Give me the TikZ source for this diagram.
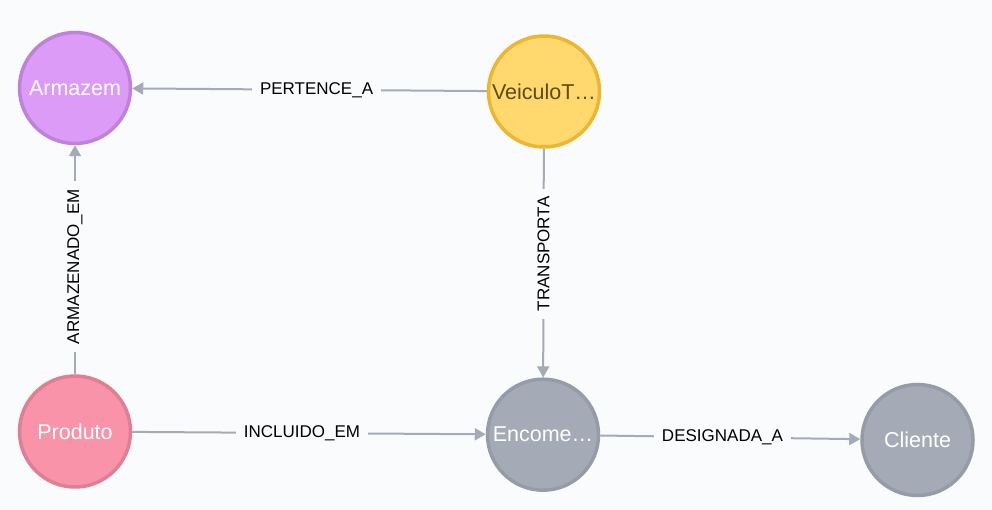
\documentclass[tikz,border=0pt]{standalone}
\usepackage{fontspec}
\setmainfont{Liberation Sans}
\usetikzlibrary{arrows.meta}
\definecolor{bg}{HTML}{F9FBFD}
\definecolor{edgec}{HTML}{A5ABB6}
\definecolor{purF}{HTML}{DC9BF7}
\definecolor{purD}{HTML}{BE82DA}
\definecolor{yelF}{HTML}{FFD86E}
\definecolor{yelD}{HTML}{EDB630}
\definecolor{pinF}{HTML}{F893A9}
\definecolor{pinD}{HTML}{DE7F94}
\definecolor{gryF}{HTML}{A5ABB6}
\definecolor{gryD}{HTML}{969CA7}
\definecolor{yelT}{HTML}{5E4A12}
\tikzset{
  gnode/.style={circle, minimum size=111pt, inner sep=0pt, line width=3.5pt,
    font=\fontsize{21.5}{25}\selectfont, text=white},
  edge/.style={draw=edgec, line width=2pt, -{Triangle[length=11pt,width=12pt]}},
  lbl/.style={fill=bg, inner xsep=8pt, inner ysep=3pt, text=black,
    font=\fontsize{17}{20}\selectfont}
}
\begin{document}
\begin{tikzpicture}[x=1pt,y=-1pt]
\fill[bg] (0,0) rectangle (992,510);
\useasboundingbox (0,0) rectangle (992,510);
\node[gnode, fill=purF, draw=purD] (arm) at (75,88) {\raisebox{-3pt}{Armazem}};
\node[gnode, fill=yelF, draw=yelD, text=yelT] (veic) at (544,91.5) {\raisebox{-3pt}{VeiculoT…}};
\node[gnode, fill=pinF, draw=pinD] (prod) at (75,431.5) {\raisebox{-3pt}{Produto}};
\node[gnode, fill=gryF, draw=gryD] (enc) at (543,434.7) {\raisebox{-3pt}{Encome…}};
\node[gnode, fill=gryF, draw=gryD] (cli) at (917.5,440) {\raisebox{-3pt}{Cliente}};
\draw[edge] (veic) -- node[lbl, pos=0.48]{PERTENCE\_A} (arm);
\draw[edge] (prod) -- node[lbl, rotate=90, pos=0.47]{ARMAZENADO\_EM} (arm);
\draw[edge] (veic) -- node[lbl, rotate=90, pos=0.46]{TRANSPORTA} (enc);
\draw[edge] (prod) -- node[lbl, pos=0.48]{INCLUIDO\_EM} (enc);
\draw[edge] (enc) -- node[lbl, pos=0.47]{DESIGNADA\_A} (cli);
\end{tikzpicture}
\end{document}
